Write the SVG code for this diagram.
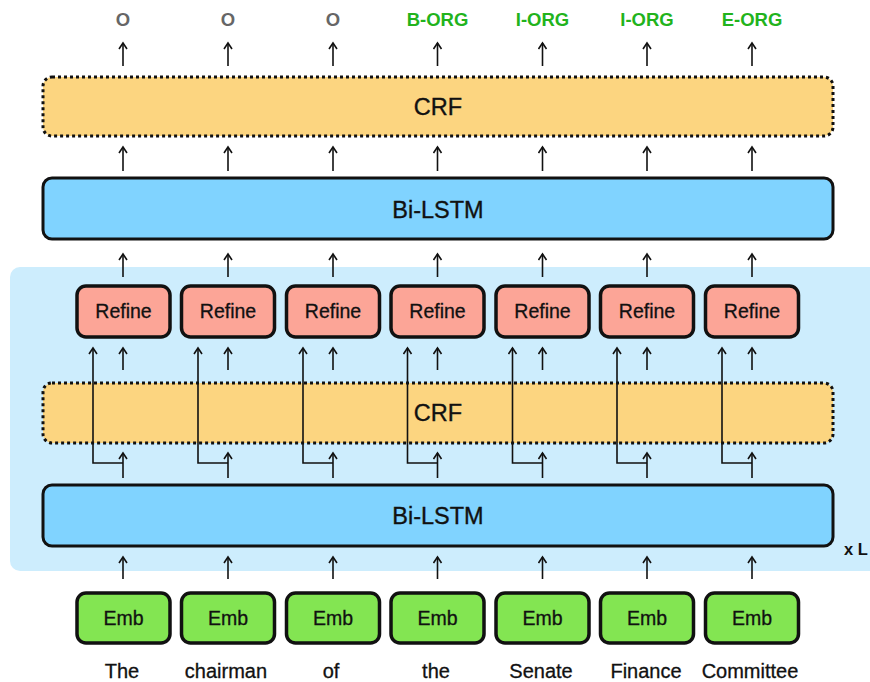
<svg xmlns="http://www.w3.org/2000/svg" width="870" height="682" viewBox="0 0 870 682">
<style>
text{font-family:"Liberation Sans",Arial,sans-serif;text-anchor:middle;dominant-baseline:central}
.crf{fill:#fcd580;stroke:#111;stroke-width:3;stroke-dasharray:3 3}
.lstm{fill:#80d3ff;stroke:#111;stroke-width:3}
.ref{fill:#fca597;stroke:#111;stroke-width:3.5}
.emb{fill:#83e552;stroke:#111;stroke-width:3.5}
.big{font-size:23.5px;fill:#111;stroke:#111;stroke-width:0.35}
.small{font-size:19.5px;fill:#111;stroke:#111;stroke-width:0.3}
.tagO{font-size:18.5px;font-weight:bold;fill:#666}
.tagG{font-size:18.5px;font-weight:bold;fill:#22b31c}
.word{font-size:20px;fill:#111;stroke:#111;stroke-width:0.3}
.c line,.c path{stroke:#111;stroke-width:1.6;fill:none;marker-end:url(#ah)}
</style>
<defs>
<marker id="ah" viewBox="0 0 10 10" refX="8" refY="5" markerWidth="10" markerHeight="10" markerUnits="userSpaceOnUse" orient="auto">
<path d="M2,1 L8,5 L2,9" fill="none" stroke="#111" stroke-width="1.6"/>
</marker>
</defs>
<rect x="10" y="267" width="880" height="304" rx="10" fill="#cdedfd"/>
<g id="tags">
<text class="tagO" x="123" y="19">O</text>
<text class="tagO" x="228" y="19">O</text>
<text class="tagO" x="333" y="19">O</text>
<text class="tagG" x="437.5" y="19">B-ORG</text>
<text class="tagG" x="542.5" y="19">I-ORG</text>
<text class="tagG" x="647" y="19">I-ORG</text>
<text class="tagG" x="752" y="19">E-ORG</text>
</g>
<g id="crf-top"><rect class="crf" x="43" y="77" width="790" height="59" rx="9"/><text class="big" x="438" y="107">CRF</text></g>
<g id="bilstm-top"><rect class="lstm" x="43" y="178" width="790" height="61" rx="9"/><text class="big" x="438" y="210">Bi-LSTM</text></g>
<g id="crf-inner"><rect class="crf" x="43" y="383" width="790" height="60" rx="9"/><text class="big" x="438" y="413">CRF</text></g>
<g id="bilstm-inner"><rect class="lstm" x="43" y="485" width="790" height="61" rx="9"/><text class="big" x="438" y="516">Bi-LSTM</text></g>
<g id="refine1"><rect class="ref" x="77" y="286" width="93" height="51" rx="9"/><text class="small" x="123.5" y="311">Refine</text></g>
<g id="refine2"><rect class="ref" x="181.5" y="286" width="93" height="51" rx="9"/><text class="small" x="228" y="311">Refine</text></g>
<g id="refine3"><rect class="ref" x="286.5" y="286" width="93" height="51" rx="9"/><text class="small" x="333" y="311">Refine</text></g>
<g id="refine4"><rect class="ref" x="391" y="286" width="93" height="51" rx="9"/><text class="small" x="437.5" y="311">Refine</text></g>
<g id="refine5"><rect class="ref" x="496" y="286" width="93" height="51" rx="9"/><text class="small" x="542.5" y="311">Refine</text></g>
<g id="refine6"><rect class="ref" x="600.5" y="286" width="93" height="51" rx="9"/><text class="small" x="647" y="311">Refine</text></g>
<g id="refine7"><rect class="ref" x="705.5" y="286" width="93" height="51" rx="9"/><text class="small" x="752" y="311">Refine</text></g>
<g id="emb1"><rect class="emb" x="77" y="593" width="93" height="50" rx="9"/><text class="small" x="123.5" y="618">Emb</text></g>
<g id="emb2"><rect class="emb" x="181.5" y="593" width="93" height="50" rx="9"/><text class="small" x="228" y="618">Emb</text></g>
<g id="emb3"><rect class="emb" x="286.5" y="593" width="93" height="50" rx="9"/><text class="small" x="333" y="618">Emb</text></g>
<g id="emb4"><rect class="emb" x="391" y="593" width="93" height="50" rx="9"/><text class="small" x="437.5" y="618">Emb</text></g>
<g id="emb5"><rect class="emb" x="496" y="593" width="93" height="50" rx="9"/><text class="small" x="542.5" y="618">Emb</text></g>
<g id="emb6"><rect class="emb" x="600.5" y="593" width="93" height="50" rx="9"/><text class="small" x="647" y="618">Emb</text></g>
<g id="emb7"><rect class="emb" x="705.5" y="593" width="93" height="50" rx="9"/><text class="small" x="752" y="618">Emb</text></g>
<g id="words">
<text class="word" x="122" y="671">The</text>
<text class="word" x="226" y="671">chairman</text>
<text class="word" x="331" y="671">of</text>
<text class="word" x="436" y="671">the</text>
<text class="word" x="541" y="671">Senate</text>
<text class="word" x="646" y="671">Finance</text>
<text class="word" x="750" y="671">Committee</text>
</g>
<text x="856" y="549" style="font-size:16.5px;font-weight:bold;fill:#111">x L</text>
<g id="connectors" class="c">
<line x1="123" y1="66" x2="123" y2="43"/><line x1="228" y1="66" x2="228" y2="43"/><line x1="333" y1="66" x2="333" y2="43"/><line x1="437.5" y1="66" x2="437.5" y2="43"/><line x1="542.5" y1="66" x2="542.5" y2="43"/><line x1="647" y1="66" x2="647" y2="43"/><line x1="752" y1="66" x2="752" y2="43"/>
<line x1="123" y1="171" x2="123" y2="147"/><line x1="228" y1="171" x2="228" y2="147"/><line x1="333" y1="171" x2="333" y2="147"/><line x1="437.5" y1="171" x2="437.5" y2="147"/><line x1="542.5" y1="171" x2="542.5" y2="147"/><line x1="647" y1="171" x2="647" y2="147"/><line x1="752" y1="171" x2="752" y2="147"/>
<line x1="123" y1="277" x2="123" y2="254"/><line x1="228" y1="277" x2="228" y2="254"/><line x1="333" y1="277" x2="333" y2="254"/><line x1="437.5" y1="277" x2="437.5" y2="254"/><line x1="542.5" y1="277" x2="542.5" y2="254"/><line x1="647" y1="277" x2="647" y2="254"/><line x1="752" y1="277" x2="752" y2="254"/>
<line x1="123" y1="370" x2="123" y2="348"/><line x1="228" y1="370" x2="228" y2="348"/><line x1="333" y1="370" x2="333" y2="348"/><line x1="437.5" y1="370" x2="437.5" y2="348"/><line x1="542.5" y1="370" x2="542.5" y2="348"/><line x1="647" y1="370" x2="647" y2="348"/><line x1="752" y1="370" x2="752" y2="348"/>
<line x1="123" y1="478" x2="123" y2="453"/><line x1="228" y1="478" x2="228" y2="453"/><line x1="333" y1="478" x2="333" y2="453"/><line x1="437.5" y1="478" x2="437.5" y2="453"/><line x1="542.5" y1="478" x2="542.5" y2="453"/><line x1="647" y1="478" x2="647" y2="453"/><line x1="752" y1="478" x2="752" y2="453"/>
<path d="M123,463 H93 V348"/><path d="M228,463 H198 V348"/><path d="M333,463 H303 V348"/><path d="M437.5,463 H407.5 V348"/><path d="M542.5,463 H512.5 V348"/><path d="M647,463 H617 V348"/><path d="M752,463 H722 V348"/>
<line x1="123" y1="579" x2="123" y2="557"/><line x1="228" y1="579" x2="228" y2="557"/><line x1="333" y1="579" x2="333" y2="557"/><line x1="437.5" y1="579" x2="437.5" y2="557"/><line x1="542.5" y1="579" x2="542.5" y2="557"/><line x1="647" y1="579" x2="647" y2="557"/><line x1="752" y1="579" x2="752" y2="557"/>
</g>
</svg>
